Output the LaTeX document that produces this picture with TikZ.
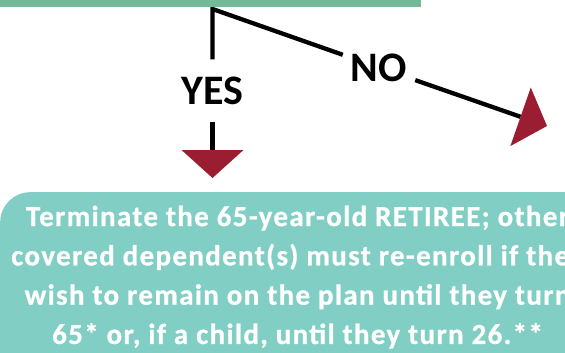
\documentclass[tikz,border=0pt]{standalone}
\usepackage{fontspec}
\setmainfont{Carlito}
\usetikzlibrary{arrows.meta}
\definecolor{barcol}{RGB}{117,185,153}
\definecolor{boxcol}{RGB}{129,206,196}
\definecolor{tipcol}{RGB}{155,29,50}
\begin{document}
\begin{tikzpicture}[x=1pt,y=-1pt,
  conn/.style={line width=4.3pt, draw=black},
  tipped/.style={-{Triangle[length=28pt,width=62pt,line width=0pt,color=tipcol,fill=tipcol]}},
  lbl/.style={font=\fontsize{42}{42}\selectfont\bfseries, text=black, inner sep=0pt},
  panel/.style={fill=#1, draw=none, inner sep=0pt}]
\clip (0,0) rectangle (565,353);
% labels
\node (yes) [lbl, inner ysep=17pt, inner xsep=2pt] at (212.5,90.5) {YES};
\node (no) [lbl, inner sep=8pt] at (379,67.5) {NO};
\coordinate (c) at (212.5,9);
\coordinate (dn) at (212.5,178);
\coordinate (ne) at (547,126);
% connectors
\draw[conn, line join=miter] (yes) -- (c) -- (no);
\draw[conn, tipped] (no) -- (ne);
\draw[conn, tipped] (yes) -- (dn);
% green bar (upper box)
\node (bar) [panel=barcol, minimum width=441pt, minimum height=27pt, anchor=south west] at (-20,7) {};
% teal box
\node (box) [panel=boxcol, rounded corners=30pt, minimum width=640pt, minimum height=220pt, anchor=north west] at (0,192) {};
\node (msg) [anchor=north, align=center, inner sep=0pt, text=white,
  font=\fontsize{29}{39.3}\selectfont\bfseries\addfontfeature{LetterSpace=4.6,FakeBold=0.8}] at (297.5,205.5)
  {Terminate the 65-year-old RETIREE; other\\
   covered dependent(s) must re-enroll if they\\
   wish to remain on the plan until they turn\\
   65* or, if a child, until they turn 26.**};
\end{tikzpicture}
\end{document}
